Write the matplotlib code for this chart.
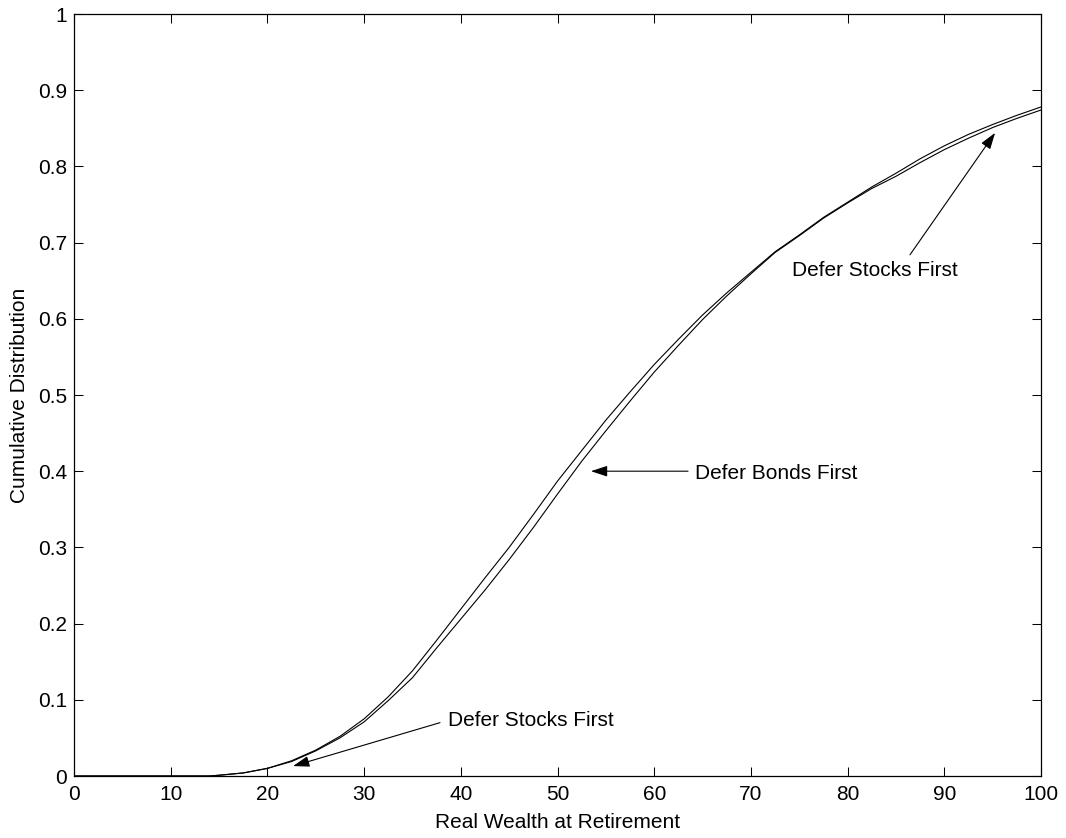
import matplotlib
matplotlib.use("Agg")
import matplotlib.pyplot as plt

plt.rcParams['font.family'] = ['Liberation Sans', 'DejaVu Sans']

# Real wealth at retirement (x) and cumulative distribution values
wealth = [0, 10, 14, 15, 17.5, 20, 22.5, 25, 27.5, 30, 32.5, 35, 37.5, 40, 42.5,
          45, 47.5, 50, 52.5, 55, 57.5, 60, 62.5, 65, 67.5, 70, 72.5, 75, 77.5,
          80, 82.5, 85, 87.5, 90, 92.5, 95, 97.5, 100]

cdf_defer_stocks = [0, 0, 0.0, 0.001, 0.004, 0.010, 0.020, 0.034, 0.052, 0.075,
                    0.104, 0.138, 0.178, 0.219, 0.260, 0.300, 0.343, 0.387, 0.427,
                    0.467, 0.504, 0.540, 0.573, 0.605, 0.634, 0.661, 0.688, 0.710,
                    0.733, 0.753, 0.773, 0.791, 0.810, 0.827, 0.842, 0.855, 0.867,
                    0.878]

cdf_defer_bonds = [0, 0, 0.0, 0.001, 0.004, 0.010, 0.019, 0.033, 0.050, 0.071,
                   0.099, 0.129, 0.168, 0.206, 0.244, 0.284, 0.326, 0.370, 0.413,
                   0.453, 0.492, 0.530, 0.565, 0.599, 0.630, 0.659, 0.687, 0.709,
                   0.732, 0.752, 0.771, 0.787, 0.805, 0.822, 0.837, 0.851, 0.863,
                   0.874]

x_ticks = [0, 10, 20, 30, 40, 50, 60, 70, 80, 90, 100]
y_ticks = [0, 0.1, 0.2, 0.3, 0.4, 0.5, 0.6, 0.7, 0.8, 0.9, 1]
y_tick_labels = ['0', '0.1', '0.2', '0.3', '0.4', '0.5', '0.6', '0.7', '0.8', '0.9', '1']

FS = 15

fig = plt.figure(figsize=(10.66, 8.38), dpi=100)
ax = fig.add_axes([74/1066, 1 - 776/838, 967/1066, 762/838])

ax.plot(wealth, cdf_defer_stocks, color='black', lw=0.8)
ax.plot(wealth, cdf_defer_bonds, color='black', lw=0.8)

ax.set_xlim(0, 100)
ax.set_ylim(0, 1)
ax.set_xticks(x_ticks)
ax.set_xticklabels([str(t) for t in x_ticks])
ax.set_yticks(y_ticks)
ax.set_yticklabels(y_tick_labels)
ax.tick_params(direction='in', length=6.5, width=0.75, top=True, right=True,
               labelsize=FS, color='black')
ax.tick_params(axis='x', pad=6.5)
ax.tick_params(axis='y', pad=5)
for s in ax.spines.values():
    s.set_linewidth(0.9)

arrow = dict(arrowstyle='-|>,head_length=1.0,head_width=0.33', color='black',
             lw=0.8, shrinkA=0, shrinkB=0)

# bottom annotation
ax.annotate('', xy=(22.65, 0.013), xytext=(37.85, 0.070), arrowprops=arrow)
ax.text(38.7, 0.073, 'Defer Stocks First', fontsize=FS, ha='left', va='center')

# middle annotation
ax.annotate('', xy=(53.46, 0.400), xytext=(63.5, 0.400), arrowprops=arrow)
ax.text(64.2, 0.397, 'Defer Bonds First', fontsize=FS, ha='left', va='center')

# top annotation
ax.annotate('', xy=(95.25, 0.844), xytext=(86.45, 0.684), arrowprops=arrow)
ax.text(74.2, 0.663, 'Defer Stocks First', fontsize=FS, ha='left', va='center')

fig.text(20/1066, 1 - 395/838, 'Cumulative Distribution', fontsize=FS,
         rotation=90, ha='center', va='center')
fig.text(558/1066, 1 - 822/838, 'Real Wealth at Retirement', fontsize=FS,
         ha='center', va='center')

fig.savefig('out.png', dpi=100, facecolor='white')
